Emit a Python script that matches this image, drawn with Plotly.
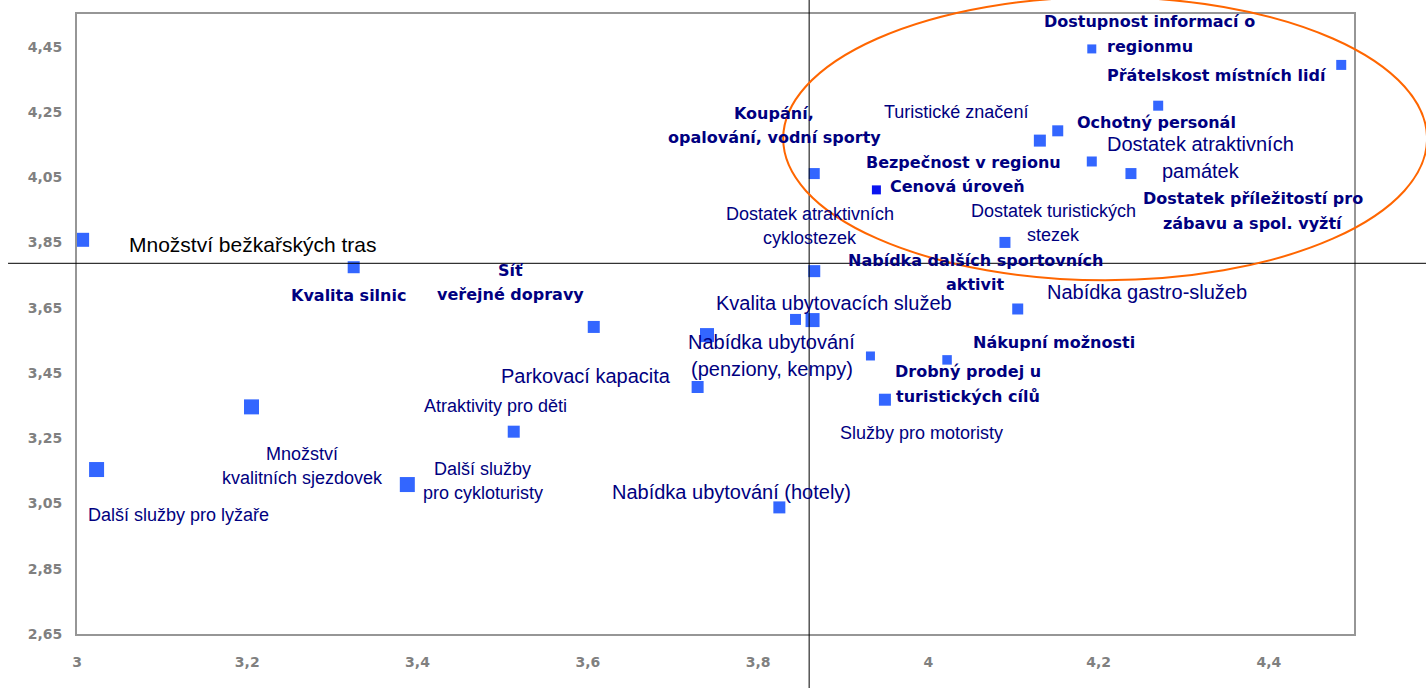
import plotly.graph_objects as go

# ---------------- data ----------------
names = [
    "Dostupnost informací o\nregionmu",
    "Přátelskost místních lidí",
    "Ochotný personál",
    "Bezpečnost v regionu",
    "Turistické značení",
    "Dostatek atraktivních\npamátek",
    "Dostatek příležitostí pro\nzábavu a spol. vyžtí",
    "Koupání,\nopalování, vodní sporty",
    "Cenová úroveň",
    "Dostatek turistických\nstezek",
    "Dostatek atraktivních\ncyklostezek",
    "Nabídka gastro-služeb",
    "Kvalita ubytovacích služeb",
    "Nabídka dalších sportovních\naktivit",
    "Nabídka ubytování\n(penziony, kempy)",
    "Služby pro motoristy",
    "Nákupní možnosti",
    "Parkovací kapacita",
    "Drobný prodej u\nturistických cílů",
    "Nabídka ubytování (hotely)",
    "Síť\nveřejné dopravy",
    "Kvalita silnic",
    "Množství bežkařských tras",
    "Množství\nkvalitních sjezdovek",
    "Atraktivity pro děti",
    "Další služby pro lyžaře",
    "Další služby\npro cykloturisty",
]
x_vals = [4.192, 4.485, 4.270, 4.152, 4.131, 4.192, 4.238, 3.866, 3.939, 4.090,
          3.866, 4.105, 3.844, 3.864, 3.740, 3.932, 4.022, 3.729, 3.949, 3.825,
          3.607, 3.325, 3.006, 3.205, 3.513, 3.023, 3.388]
y_vals = [4.443, 4.394, 4.269, 4.192, 4.162, 4.098, 4.061, 4.061, 4.011, 3.850,
          3.762, 3.646, 3.614, 3.612, 3.566, 3.502, 3.490, 3.407, 3.368, 3.038,
          3.591, 3.774, 3.858, 3.346, 3.270, 3.154, 3.108]

mean_x = 3.860
mean_y = 3.786

x_tickvals = [3.0, 3.2, 3.4, 3.6, 3.8, 4.0, 4.2, 4.4]
x_ticktext = ["3", "3,2", "3,4", "3,6", "3,8", "4", "4,2", "4,4"]
y_tickvals = [2.65, 2.85, 3.05, 3.25, 3.45, 3.65, 3.85, 4.05, 4.25, 4.45]
y_ticktext = ["2,65", "2,85", "3,05", "3,25", "3,45", "3,65", "3,85", "4,05", "4,25", "4,45"]

# ---------------- styling / label placement (pixels) ----------------
marker_sizes = [9, 10, 10, 11, 12, 10, 11, 11, 9, 11,
                12, 11, 11, 14, 14, 9, 9.5, 12, 12, 12,
                12, 12, 14, 15, 12, 15, 15]
# (dx, dy, style) offset of label block centre from its point, in px (dy down)
label_pos = [
    (58, -15, "bold"), (-124, 11, "bold"), (-1.5, 17, "bold"), (-94, 32, "bold"),
    (-83.5, -29, "reg_s"), (109, -3.5, "reg_l"), (122, 37.5, "bold"), (-40, -48, "bold"),
    (81, -3, "bold"), (49, -19.5, "reg_s"), (-4, -45, "reg_s"), (129, -17, "reg_l"),
    (38, -16.5, "reg_l"), (162.5, -47.5, "bold"), (65, 20.5, "reg_l"), (51, 77, "reg_s"),
    (106.5, -17, "bold"), (-111.5, -11, "reg_l"), (83, -15.5, "bold"), (-47.5, -15, "reg_l"),
    (-83, -44.5, "bold"), (-5, 28, "bold"), (170.5, 4.5, "black"), (50.5, 59, "reg_s"),
    (-18, -26, "reg_s"), (82, 45, "reg_s"), (75.5, -4, "reg_s"),
]
styles = {
    "bold": dict(font=dict(family="DejaVu Sans", size=16, color="#000080", weight="bold"), gap=24.5),
    "reg_l": dict(font=dict(family="Liberation Sans, Arial", size=20, color="#000080"), gap=27),
    "reg_s": dict(font=dict(family="Liberation Sans, Arial", size=18, color="#000080"), gap=24),
    "black": dict(font=dict(family="Liberation Sans, Arial", size=21, color="#000000"), gap=24),
}

marker_colors = ["#3366FF"] * len(x_vals)
marker_colors[names.index("Cenová úroveň")] = "#0A14F0"

fig = go.Figure()
fig.add_trace(go.Scatter(
    x=x_vals, y=y_vals, mode="markers",
    marker=dict(symbol="square", size=marker_sizes, color=marker_colors,
                opacity=1, line=dict(width=0)),
    hoverinfo="text", text=[n.replace("\n", " ") for n in names],
    showlegend=False,
))

annotations = []
for name, xv, yv, (dx, dy, st) in zip(names, x_vals, y_vals, label_pos):
    lines = name.split("\n")
    n = len(lines)
    s = styles[st]
    for i, line in enumerate(lines):
        off = dy + (i - (n - 1) / 2) * s["gap"]
        annotations.append(dict(
            x=xv, y=yv, xref="x", yref="y", text=line, showarrow=False,
            xanchor="center", yanchor="middle", xshift=dx, yshift=-off,
            font=s["font"],
        ))

shapes = [
    dict(type="line", xref="x", yref="paper", x0=mean_x, x1=mean_x, y0=-0.09, y1=1.03,
         line=dict(color="#000000", width=1), layer="above"),
    dict(type="line", xref="paper", yref="y", x0=-0.054, x1=1.06, y0=mean_y, y1=mean_y,
         line=dict(color="#000000", width=1), layer="above"),
    dict(type="circle", xref="paper", yref="paper", x0=0.553, x1=1.0572, y0=0.5707, y1=1.0273,
         line=dict(color="#FF6600", width=2), layer="above"),
]

axis_common = dict(
    showgrid=False, zeroline=False, showline=True, linecolor="#969696", linewidth=2,
    mirror=True, ticks="", fixedrange=True,
    tickfont=dict(family="DejaVu Sans", size=14, color="#808080", weight="bold"),
)

fig.update_layout(
    width=1426, height=688,
    margin=dict(l=77, r=72, t=12, b=54),
    paper_bgcolor="white", plot_bgcolor="white",
    xaxis=dict(range=[3.0, 4.5], tickmode="array", tickvals=x_tickvals, ticktext=x_ticktext,
               ticklabelstandoff=14, **axis_common),
    yaxis=dict(range=[2.65, 4.55], tickmode="array", tickvals=y_tickvals, ticktext=y_ticktext,
               ticklabelstandoff=10, **axis_common),
    annotations=annotations,
    shapes=shapes,
)

fig.write_html("out.html", config={"displayModeBar": False},
               post_script="document.body.style.margin='0';")
